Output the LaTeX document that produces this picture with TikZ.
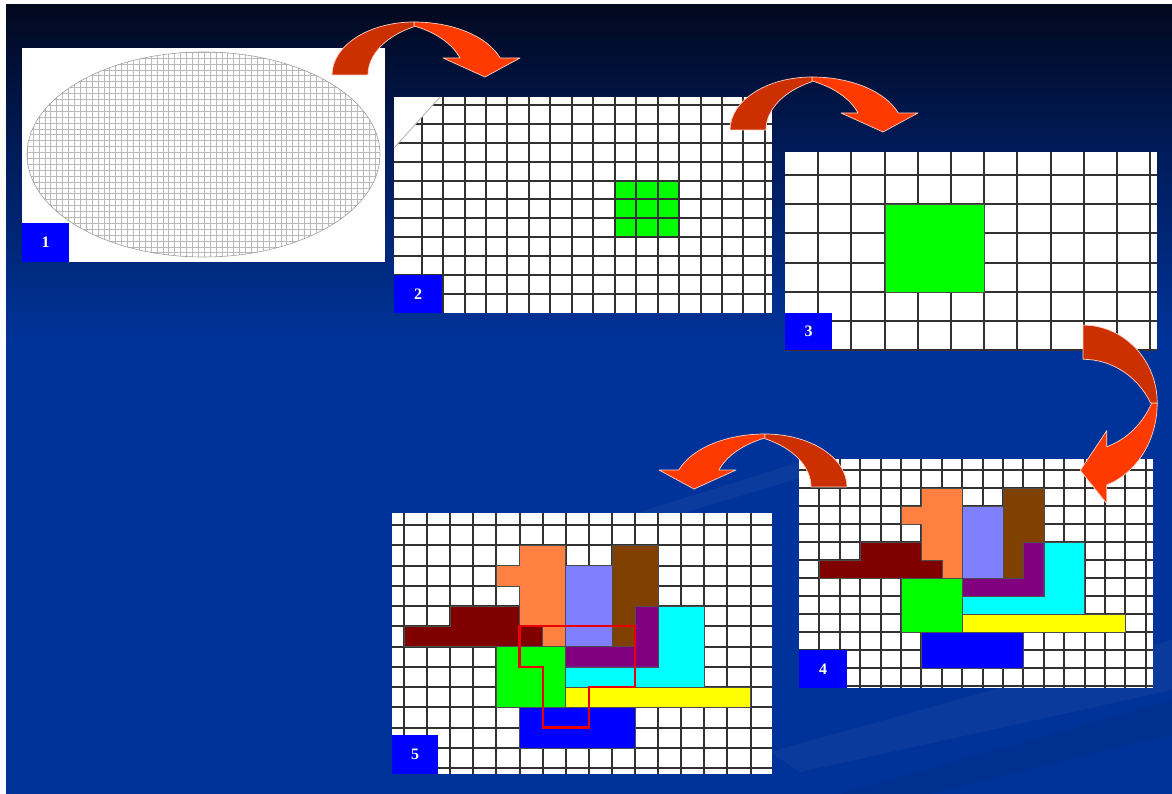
\documentclass[tikz,border=0pt]{standalone}
\usepackage{fontspec}
\setmainfont{Liberation Serif}
\definecolor{bgblue}{RGB}{0,51,153}
\definecolor{bgtop}{RGB}{2,8,30}
\definecolor{bgmid}{RGB}{0,26,85}
\definecolor{gridc}{RGB}{50,50,50}
\definecolor{lblue}{RGB}{0,0,255}
\definecolor{arrdark}{RGB}{204,48,0}
\definecolor{arrlight}{RGB}{255,58,0}
\definecolor{arredge}{RGB}{255,210,200}
\definecolor{corange}{RGB}{255,128,64}
\definecolor{clav}{RGB}{128,128,255}
\definecolor{cbrown}{RGB}{128,64,0}
\definecolor{cpurple}{RGB}{128,0,128}
\definecolor{ccyan}{RGB}{0,255,255}
\definecolor{cmaroon}{RGB}{128,0,0}
\definecolor{cgreen}{RGB}{0,255,0}
\definecolor{cyellow}{RGB}{255,255,0}
\definecolor{cblue}{RGB}{0,0,255}
\definecolor{labtext}{RGB}{255,255,225}
\definecolor{redline}{RGB}{235,0,0}
\tikzset{
  gridline/.style={draw=gridc, line width=1.5pt},
  piece/.style={draw=black!70, line width=0.5pt},
  lbl/.style={fill=lblue, text=labtext, font=\fontsize{16}{16}\selectfont\bfseries,
    inner sep=0pt, anchor=north west, minimum width=47pt, minimum height=39pt},
  arrA/.style={fill=arrdark, draw=arredge, line width=0.7pt, line join=round},
  arrB/.style={fill=arrlight, draw=arredge, line width=0.7pt, line join=round},
}
\newcommand{\bentarrow}[1]{%
\begin{scope}[#1]
\path[arrB] (0,-53) arc[start angle=270, end angle=341.3, x radius=91, y radius=53]
  -- (106,-17) -- (71,2) -- (29,-17) -- (46,-17)
  arc[start angle=341.8, end angle=295.5, x radius=88.4, y radius=54.3] -- cycle;
\path[arrA] (-82,0) arc[start angle=180, end angle=270, x radius=82, y radius=53]
  -- (0,-48.3) arc[start angle=242.7, end angle=180, x radius=85, y radius=54.3] -- cycle;
\end{scope}}
\newcommand{\tetrisset}{%
\path[piece, fill=corange] (6,1) -- (8,1) -- (8,6) -- (6,6) -- (6,3) -- (5,3) -- (5,2) -- (6,2) -- cycle;
\path[piece, fill=clav] (8,2) rectangle (10,6);
\path[piece, fill=cbrown] (10,1) rectangle (12,6);
\path[piece, fill=cpurple] (11,4) -- (12,4) -- (12,7) -- (8,7) -- (8,6) -- (11,6) -- cycle;
\path[piece, fill=ccyan] (12,4) -- (14,4) -- (14,8) -- (8,8) -- (8,7) -- (12,7) -- cycle;
\path[piece, fill=cmaroon] (3,4) -- (6,4) -- (6,5) -- (7,5) -- (7,6) -- (1,6) -- (1,5) -- (3,5) -- cycle;
\path[piece, fill=cgreen] (5,6) rectangle (8,9);
\path[piece, fill=cyellow] (8,8) rectangle (16,9);
\path[piece, fill=cblue] (6,9) rectangle (11,11);
}
\begin{document}
\begin{tikzpicture}[x=1pt, y=-1pt]
\useasboundingbox (0,0) rectangle (1172,794);
% background
\fill[white] (0,0) rectangle (1172,794);
\shade[top color=bgtop, bottom color=bgmid] (6,5) rectangle (1172,140.5);
\shade[top color=bgmid, bottom color=bgblue] (6,140) rectangle (1172,340.5);
\fill[bgblue] (6,340) rectangle (1172,794);
\fill[white, opacity=0.04] (640,512) -- (800,462) -- (800,478) -- (660,520) -- cycle;
\fill[white, opacity=0.035] (770,752) -- (1172,640) -- (1172,690) -- (800,772) -- cycle;
\fill[black, opacity=0.06] (840,794) -- (1172,700) -- (1172,735) -- (930,794) -- cycle;

% ---------- panel 1 : wafer ----------
\fill[white] (22,48) rectangle (385,262);
\begin{scope}
\clip (203.5,154.5) ellipse [x radius=176.5, y radius=102.5];
\foreach \i in {0,...,60} \draw[gray!55, line width=0.35pt] (27+\i*5.9,50) -- ++(0,210);
\foreach \j in {0,...,35} \draw[gray!55, line width=0.35pt] (25,52+\j*5.9) -- ++(360,0);
\end{scope}
\draw[gray!75, line width=0.6pt] (203.5,154.5) ellipse [x radius=176.5, y radius=102.5];
\node[lbl] (l1) at (22,222.5) {1};

% ---------- panel 2 ----------
\fill[white] (394,97) rectangle (772,313);
\fill[cgreen] (615,181) rectangle (679,237);
\begin{scope}
\clip (394,148) -- (440,97) -- (772,97) -- (772,313) -- (394,313) -- cycle;
\foreach \k in {0,...,16} \draw[gridline] ({round(421.7+\k*21.45)},97) -- ++(0,216);
\foreach \j in {0,...,10} \draw[gridline] (394,{round(105+\j*18.9)}) -- ++(378,0);
\end{scope}
\draw[gray!60, line width=0.8pt] (394,148) -- (440,97);
\node[lbl, minimum width=48pt, minimum height=38pt] (l2) at (394,275) {2};

% ---------- panel 3 ----------
\fill[white] (785,152) rectangle (1157,350);
\foreach \k in {1,...,11} \draw[gridline] ({round(785+33.2*\k)},152) -- ++(0,198);
\foreach \j in {0,...,6} \draw[gridline] (785,{round(175+29.17*\j)}) -- ++(372,0);
\path[piece, fill=cgreen] (885,204) rectangle (984,292);
\node[lbl, minimum width=47pt, minimum height=37pt] (l3) at (785,313) {3};

% ---------- panel 4 ----------
\fill[white] (799,459) rectangle (1153,688);
\foreach \k in {1,...,17} \draw[gridline] ({round(799+20.4*\k)},459) -- ++(0,229);
\foreach \j in {0,...,12} \draw[gridline] (799,{round(470+18*\j)}) -- ++(354,0);
\begin{scope}[shift={(799,470)}, x=20.4pt, y=-18pt]
\tetrisset
\end{scope}
\node[lbl, minimum width=48pt, minimum height=38pt] (l4) at (799,650) {4};

% ---------- panel 5 ----------
\fill[white] (392,513) rectangle (772,774);
\foreach \k in {0,...,15} \draw[gridline] ({round(404+23.1*\k)},513) -- ++(0,261);
\foreach \j in {0,...,12} \draw[gridline] (392,{round(525+20.25*\j)}) -- ++(380,0);
\begin{scope}[shift={(404,525)}, x=23.1pt, y=-20.25pt]
\begin{scope}[shift={(-1,0)}]
\tetrisset
\end{scope}
\draw[redline, line width=2.2pt, line join=miter] (5,5) -- (10,5) -- (10,8) -- (8,8) -- (8,10) -- (6,10) -- (6,7) -- (5,7) -- cycle;
\end{scope}
\node[lbl, minimum width=46pt, minimum height=39pt] (l5) at (392,735) {5};

% ---------- curved arrows ----------
\bentarrow{shift={(414,75)}}
\bentarrow{shift={(812,130)}}
\bentarrow{shift={(1083,403)}, rotate=-90, xscale=0.95, yscale=1.4}
\bentarrow{shift={(765,487)}, xscale=-1}
\end{tikzpicture}
\end{document}
